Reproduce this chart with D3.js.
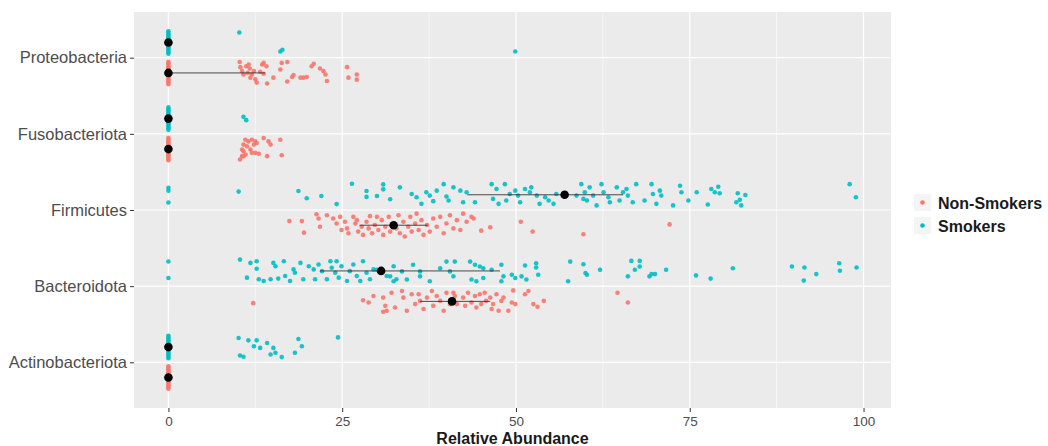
<!DOCTYPE html>
<html>
<head>
<meta charset="utf-8">
<script src="https://cdn.jsdelivr.net/npm/d3@7"></script>
<style>
  body { margin: 0; background: #fff; }
  svg text { font-family: "Liberation Sans", Arial, sans-serif; }
</style>
</head>
<body>
<svg id="chart" width="1048" height="446"></svg>
<script>
// ── Data ────────────────────────────────────────────────────────────────────
// phyla top → bottom, groups (Smokers sit above the category line)
const phyla  = ["Proteobacteria", "Fusobacteriota", "Firmicutes", "Bacteroidota", "Actinobacteriota"];
const groups = ["Non-Smokers", "Smokers"];
const xTicks = [0, 25, 50, 75, 100];

// points: [relative abundance, vertical jitter (-1..1)]
const proteoSmokers = [[10.2,-0.85],[16.1,0.77],[16.4,0.62],[49.9,0.77]];
const proteoNon = [
  [10.25,-0.93],[10.35,-0.49],[10.6,-0.15],[10.8,0.13],[11.2,-0.57],[11.55,-0.71],[11.7,-0.37],
  [11.4,-0.02],[12.0,0.13],[12.3,-0.15],[11.8,0.4],[12.5,0.54],[12.7,0.82],[13.2,-0.1],[13.5,-0.71],
  [13.7,-0.85],[14.1,-0.57],[13.7,0.07],[14.2,0.9],[15.1,0.4],[16.1,-0.29],[16.3,-0.85],[17.1,-0.93],
  [17.1,0.73],[17.8,0.35],[18.0,0.18],[19.0,0.4],[19.4,0.4],[19.9,0.35],[20.6,-0.57],[20.9,-0.77],
  [21.8,-0.37],[22.3,-0.15],[22.6,0.13],[22.8,0.68],[25.7,-0.49],[25.9,0.4],[27.1,0.13],[27.1,0.57]
];
const fusoSmokers = [[10.8,-0.15],[11.2,0.13]];
const fusoNon = [
  [11.06,-0.79],[11.5,-0.65],[12.0,-0.79],[12.5,-0.65],[12.7,-0.52],[13.7,-0.93],[14.4,-0.65],
  [14.7,-0.38],[16.1,-0.79],[10.8,-0.38],[11.3,-0.23],[12.3,-0.38],[10.6,0.04],[11.8,0.04],
  [10.8,0.18],[12.0,0.32],[12.5,0.32],[13.0,0.4],[10.6,0.6],[11.1,0.46],[14.2,0.6],[16.3,0.52],
  [10.3,0.88],[10.8,0.6]
];
const firmSmokers = [
  [0,-0.6],[0,-0.35],[0,0.65],
  [10.1,-0.27],[18.7,-0.32],[19.9,0.29],[22.0,0.1],[24.2,0.79],[26.4,-0.93],[28.5,-0.32],[28.5,0.18],
  [30.0,0.1],[30.9,-0.88],[30.9,-0.46],[31.9,0.38],[33.3,-0.63],[35.0,-0.07],[35.7,0.21],[36.4,0.77],
  [37.1,-0.21],[37.6,0.07],[38.1,0.54],[38.6,-0.35],[39.6,-0.9],[40.0,0.15],[40.3,0.48],[41.0,-0.63],
  [42.0,-0.35],[42.4,0.63],[42.9,-0.21],[44.1,0.63],[46.5,-0.9],[47.2,-0.49],[46.7,0.35],[47.5,0.77],
  [48.4,-0.9],[48.6,0.48],[49.1,-0.07],[49.9,-0.35],[50.3,0.07],[50.6,0.63],[51.3,-0.49],[52.0,-0.21],
  [52.2,-0.63],[53.0,0.07],[53.4,0.77],[54.2,0.21],[54.7,0.48],[55.4,0.77],[55.8,-0.07],[58.7,0.07],
  [59.4,-0.9],[59.7,0.35],[59.9,-0.21],[60.2,0.48],[60.6,-0.63],[61.1,0.07],[61.6,0.9],[62.3,-0.9],
  [62.6,-0.21],[63.3,0.21],[63.5,0.63],[64.5,-0.63],[64.9,0.48],[65.4,-0.21],[65.9,-0.49],[66.1,0.07],
  [66.8,0.63],[67.3,-0.9],[68.5,0.48],[69.5,-0.9],[69.7,-0.07],[70.2,0.77],[70.7,-0.35],[70.9,0.07],
  [72.6,0.9],[73.6,-0.77],[73.8,-0.21],[74.8,0.48],[76.0,-0.21],[77.6,0.82],[78.1,-0.49],[78.6,-0.21],
  [79.1,-0.68],[79.3,-0.13],[81.7,0.63],[81.9,-0.13],[82.2,0.43],[82.4,0.9],[83.0,0.02],[98.0,-0.9],
  [98.9,0.21]
];
const firmNon = [
  [17.4,-0.35],[19.2,-0.35],[19.5,0.63],[21.3,-0.93],[21.6,-0.57],[21.8,0.13],[22.8,-0.85],[23.7,-0.57],
  [24.2,-0.15],[24.7,-0.71],[24.9,0.4],[25.4,-0.29],[25.7,0.27],[25.9,0.68],[26.6,-0.71],[26.9,-0.15],
  [27.1,-0.43],[27.3,0.54],[27.8,0.13],[28.0,0.82],[28.5,-0.29],[28.8,0.27],[29.0,-0.77],[29.3,0.68],
  [29.7,-0.02],[30.0,-0.71],[30.2,0.4],[30.7,-0.43],[30.9,0.82],[31.2,0.13],[31.7,-0.71],[31.9,0.54],
  [32.8,0.27],[33.1,-0.85],[33.3,0.68],[33.8,-0.29],[34.0,0.96],[34.5,0.13],[34.8,-0.71],[35.0,0.54],
  [35.5,-0.15],[35.7,-0.98],[36.0,0.4],[36.4,-0.43],[36.7,0.82],[37.2,-0.02],[37.6,0.54],[38.1,-0.57],
  [38.6,0.13],[39.1,-0.71],[39.6,0.68],[40.0,-0.15],[40.5,-0.85],[41.0,0.27],[41.5,-0.43],[42.0,0.4],
  [42.4,-0.98],[42.9,-0.29],[43.6,-0.71],[43.9,-0.57],[45.0,0.46],[46.3,0.18],[50.7,-0.29],[52.4,0.54],
  [59.7,0.77],[72.1,-0.07]
];
const bactSmokers = [
  [0,-0.8],[0,0.6],
  [10.3,-0.96],[11.3,0.57],[11.8,-0.68],[12.7,-0.82],[12.7,-0.18],[13.0,0.71],[13.7,0.85],[14.7,0.71],
  [15.1,-0.68],[15.4,-0.4],[15.8,0.65],[16.6,-0.82],[16.8,0.43],[17.5,0.85],[18.0,-0.13],[18.2,0.15],
  [19.0,-0.68],[19.4,0.71],[20.2,-0.4],[20.9,-0.13],[21.1,0.71],[21.6,-0.54],[22.1,0.02],[22.8,0.71],
  [23.3,-0.82],[23.5,-0.27],[24.0,0.15],[24.2,-0.82],[24.5,0.57],[24.9,-0.4],[25.7,0.85],[26.1,0.02],
  [26.6,-0.54],[27.1,0.43],[27.6,0.85],[28.0,-0.82],[28.5,0.15],[29.0,0.71],[29.5,-0.13],[30.0,-0.1],
  [31.4,0.43],[31.9,0.46],[32.4,-0.4],[32.4,0.88],[32.8,0.71],[33.6,0.04],[34.3,0.73],[35.2,-0.52],
  [36.2,0.04],[36.2,0.46],[37.6,0.88],[39.1,-0.23],[40.0,-0.79],[40.5,0.04],[41.0,0.46],[41.2,-0.79],
  [43.4,-0.79],[44.1,-0.52],[44.8,-0.38],[45.3,-0.23],[43.6,0.73],[44.3,0.88],[45.3,0.6],[46.5,-0.1],
  [47.9,-0.52],[48.2,0.46],[47.9,0.88],[49.4,0.32],[49.9,0.6],[50.8,0.46],[51.3,-0.46],[51.5,0.73],
  [52.9,-0.65],[52.9,-0.29],[53.2,0.32],[57.8,-0.79],[57.5,0.88],[59.7,-0.57],[60.0,0.18],[60.2,0.32],
  [62.1,-0.1],[66.1,0.46],[66.6,-0.85],[67.8,-0.85],[67.8,-0.38],[67.1,-0.1],[69.2,0.46],[69.5,0.27],
  [70.0,0.27],[71.6,-0.1],[75.9,0.38],[78.0,0.65],[81.2,-0.23],[89.7,-0.38],[91.5,-0.29],[91.4,0.82],
  [93.2,0.27],[96.5,-0.65],[96.6,-0.02],[99.0,-0.29]
];
const bactNon = [
  [12.2,0.15],[28.0,-0.1],[28.8,0.1],[29.5,-0.46],[30.9,-0.32],[31.2,0.38],[31.4,0.79],[30.9,0.88],
  [32.1,-0.73],[32.6,0.52],[33.6,-0.88],[33.8,-0.32],[34.3,0.79],[35.0,-0.6],[35.5,0.23],[36.0,-0.6],
  [36.2,-0.04],[36.7,0.65],[37.2,-0.32],[37.9,-0.88],[38.1,0.38],[38.6,-0.46],[39.1,-0.04],[39.6,0.79],
  [40.0,-0.73],[40.5,0.23],[41.2,-0.46],[41.0,-0.73],[41.5,0.23],[42.4,-0.32],[42.7,0.38],[43.1,-0.73],
  [43.6,0.1],[44.1,-0.46],[44.3,0.52],[44.8,-0.6],[45.0,0.23],[45.5,-0.73],[45.7,-0.04],[46.3,-0.32],
  [46.5,0.65],[46.7,0.23],[47.2,-0.6],[47.5,0.79],[47.9,-0.04],[48.2,-0.32],[48.9,0.79],[49.4,0.1],
  [49.6,-0.93],[49.9,0.23],[51.3,-0.6],[51.8,-0.88],[52.5,0.23],[53.1,0.46],[54.0,-0.04],[64.6,-0.73],
  [66.1,0.1]
];
const actinoSmokers = [
  [10.1,-0.77],[11.5,-0.57],[12.7,-0.57],[14.2,-0.35],[12.3,-0.07],[13.2,0.07],[15.1,0.07],[15.4,0.48],
  [14.7,0.63],[18.7,-0.68],[19.2,-0.07],[18.2,0.48],[16.3,0.85],[10.3,0.71],[10.8,0.82],[24.4,-0.82]
];
const actinoNon = [];

// groups whose many zero values pile up as a column at x = 0
const zeroStackGroups = [
  ["Proteobacteria","Smokers"],["Proteobacteria","Non-Smokers"],
  ["Fusobacteriota","Smokers"],["Fusobacteriota","Non-Smokers"],
  ["Actinobacteriota","Smokers"],["Actinobacteriota","Non-Smokers"]
];
const zeroJitter = [-0.95,-0.82,-0.68,-0.55,-0.42,-0.28,-0.15,0,0.15,0.28,0.42,0.55,0.68,0.82,0.95];

// median and interquartile range per group
const summaries = [
  { phylum: "Proteobacteria",   group: "Smokers",     mid: 0,    lo: 0,    hi: 0 },
  { phylum: "Proteobacteria",   group: "Non-Smokers", mid: 0,    lo: 0,    hi: 13.9 },
  { phylum: "Fusobacteriota",   group: "Smokers",     mid: 0,    lo: 0,    hi: 0 },
  { phylum: "Fusobacteriota",   group: "Non-Smokers", mid: 0,    lo: 0,    hi: 0 },
  { phylum: "Firmicutes",       group: "Smokers",     mid: 57.0, lo: 43.0, hi: 65.4 },
  { phylum: "Firmicutes",       group: "Non-Smokers", mid: 32.4, lo: 27.5, hi: 37.3 },
  { phylum: "Bacteroidota",     group: "Smokers",     mid: 30.6, lo: 21.8, hi: 47.7 },
  { phylum: "Bacteroidota",     group: "Non-Smokers", mid: 40.8, lo: 36.2, hi: 46.3 },
  { phylum: "Actinobacteriota", group: "Smokers",     mid: 0,    lo: 0,    hi: 0 },
  { phylum: "Actinobacteriota", group: "Non-Smokers", mid: 0,    lo: 0,    hi: 0 }
];

const COLORS = { "Non-Smokers": "#F8766D", "Smokers": "#00BFC4" };

// ── Layout ──────────────────────────────────────────────────────────────────
const P = { left: 134, right: 891, top: 12, bottom: 408 };
const svg = d3.select("#chart");

const x = d3.scaleLinear().domain([-4.95, 103.95]).range([P.left, P.right]);
const y = d3.scalePoint().domain(phyla).range([P.top, P.bottom]).padding(0.6);
const dodge  = { "Smokers": -0.2 * y.step(), "Non-Smokers": 0.2 * y.step() };
const jitter = 0.155 * y.step();

// build one flat point list from the named arrays
const pointSets = [
  ["Proteobacteria", "Smokers", proteoSmokers], ["Proteobacteria", "Non-Smokers", proteoNon],
  ["Fusobacteriota", "Smokers", fusoSmokers],   ["Fusobacteriota", "Non-Smokers", fusoNon],
  ["Firmicutes", "Smokers", firmSmokers],       ["Firmicutes", "Non-Smokers", firmNon],
  ["Bacteroidota", "Smokers", bactSmokers],     ["Bacteroidota", "Non-Smokers", bactNon],
  ["Actinobacteriota", "Smokers", actinoSmokers], ["Actinobacteriota", "Non-Smokers", actinoNon]
];
const points = [];
zeroStackGroups.forEach(([ph, gr]) => zeroJitter.forEach(j => points.push({ ph, gr, v: 0, j })));
pointSets.forEach(([ph, gr, arr]) => arr.forEach(([v, j]) => points.push({ ph, gr, v, j })));

// Panel background
svg.append("rect")
  .attr("x", P.left).attr("y", P.top)
  .attr("width", P.right - P.left).attr("height", P.bottom - P.top)
  .attr("fill", "#EBEBEB");

// Grid: minor x, major x, major y
const minor = d3.range(12.5, 100, 25);
svg.append("g").selectAll("line").data(minor).join("line")
  .attr("x1", d => x(d)).attr("x2", d => x(d)).attr("y1", P.top).attr("y2", P.bottom)
  .attr("stroke", "#fff").attr("stroke-width", 0.6);
svg.append("g").selectAll("line").data(xTicks).join("line")
  .attr("x1", d => x(d)).attr("x2", d => x(d)).attr("y1", P.top).attr("y2", P.bottom)
  .attr("stroke", "#fff").attr("stroke-width", 1.2);
svg.append("g").selectAll("line").data(phyla).join("line")
  .attr("x1", P.left).attr("x2", P.right).attr("y1", d => y(d)).attr("y2", d => y(d))
  .attr("stroke", "#fff").attr("stroke-width", 1.2);

// Axes
const xAxis = svg.append("g").attr("transform", `translate(0,${P.bottom})`)
  .call(d3.axisBottom(x).tickValues(xTicks).tickSize(4).tickPadding(4));
const yAxis = svg.append("g").attr("transform", `translate(${P.left},0)`)
  .call(d3.axisLeft(y).tickSize(4).tickPadding(3));
[xAxis, yAxis].forEach(a => {
  a.select(".domain").remove();
  a.selectAll(".tick line").attr("stroke", "#333").attr("stroke-width", 1);
  a.selectAll(".tick text").attr("fill", "#4D4D4D")
    .style("font-family", '"Liberation Sans", Arial, sans-serif');
});
xAxis.selectAll(".tick text").style("font-size", "13.5px");
yAxis.selectAll(".tick text").style("font-size", "16.5px");

svg.append("text")
  .attr("x", (P.left + P.right) / 2).attr("y", 444)
  .attr("text-anchor", "middle")
  .attr("font-size", "16px").attr("font-weight", "bold").attr("fill", "#1a1a1a")
  .text("Relative Abundance");

// Jittered points
svg.append("g").selectAll("circle").data(points).join("circle")
  .attr("cx", d => x(d.v))
  .attr("cy", d => y(d.ph) + dodge[d.gr] + d.j * jitter)
  .attr("r", 2.3)
  .attr("fill", d => COLORS[d.gr])
  .attr("opacity", 0.9);

// Median + IQR
svg.append("g").selectAll("line").data(summaries.filter(d => d.hi > d.lo)).join("line")
  .attr("x1", d => x(d.lo)).attr("x2", d => x(d.hi))
  .attr("y1", d => y(d.phylum) + dodge[d.group])
  .attr("y2", d => y(d.phylum) + dodge[d.group])
  .attr("stroke", "#222").attr("stroke-width", 1).attr("opacity", 0.8);
svg.append("g").selectAll("circle").data(summaries).join("circle")
  .attr("cx", d => x(d.mid))
  .attr("cy", d => y(d.phylum) + dodge[d.group])
  .attr("r", 4.3)
  .attr("fill", "#000");

// Legend
const leg = svg.append("g").attr("transform", "translate(914,194)");
groups.forEach((g, i) => {
  const row = leg.append("g").attr("transform", `translate(0,${i * 23})`);
  row.append("rect").attr("width", 17).attr("height", 17).attr("fill", "#F4F4F4");
  row.append("circle").attr("cx", 8.5).attr("cy", 8.5).attr("r", 2.3).attr("fill", COLORS[g]);
  row.append("text").attr("x", 24).attr("y", 14.5)
    .attr("font-size", "16px").attr("font-weight", "bold").attr("fill", "#1a1a1a")
    .text(g);
});
</script>
</body>
</html>
